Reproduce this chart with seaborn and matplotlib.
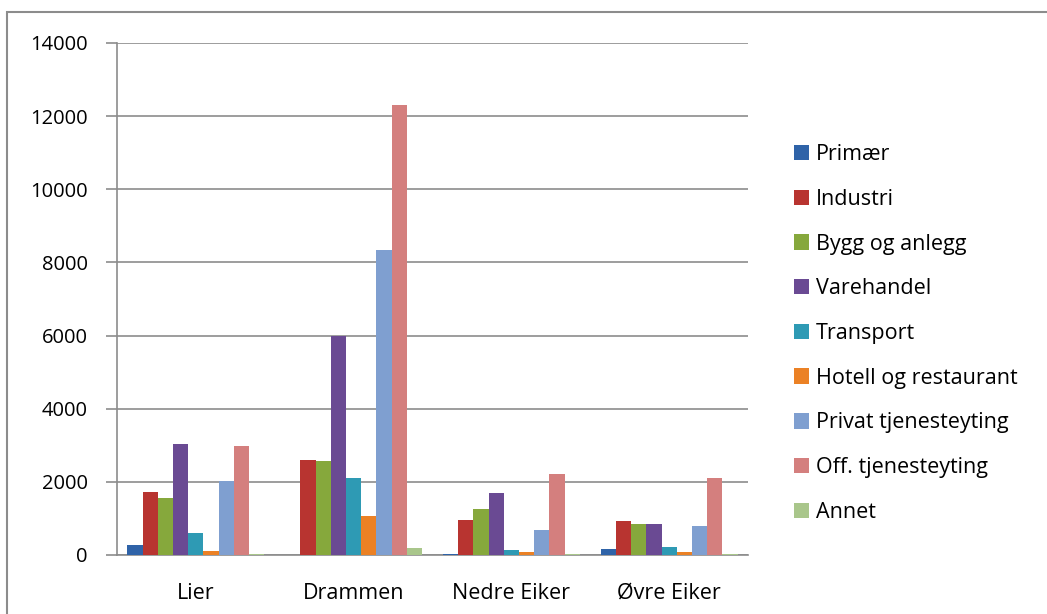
import pandas as pd
import matplotlib.pyplot as plt
import seaborn as sns
from matplotlib.patches import Rectangle

# Kommuner og næringer
kommuner = ['Lier', 'Drammen', 'Nedre Eiker', 'Øvre Eiker']
naeringer = ['Primær', 'Industri', 'Bygg og anlegg', 'Varehandel', 'Transport',
             'Hotell og restaurant', 'Privat tjenesteyting', 'Off. tjenesteyting', 'Annet']

# Sysselsatte per næring (en liste per kommune, i rekkefølgen over)
lier = [270, 1720, 1560, 3030, 600, 120, 2020, 2990, 40]
drammen = [10, 2600, 2570, 6000, 2100, 1060, 8350, 12300, 200]
nedre_eiker = [20, 950, 1260, 1690, 130, 80, 680, 2210, 20]
ovre_eiker = [160, 930, 860, 860, 220, 90, 800, 2100, 20]

farger = ['#2F63A8', '#B83430', '#86A83C', '#6A4A93', '#2E9AB4',
          '#EB8125', '#7F9FD0', '#D47F7E', '#A9C68B']

rows = []
for kommune, verdier in zip(kommuner, [lier, drammen, nedre_eiker, ovre_eiker]):
    for naering, v in zip(naeringer, verdier):
        rows.append({'kommune': kommune, 'naering': naering, 'antall': v})
df = pd.DataFrame(rows)

sns.set_style('white')
plt.rcParams['font.family'] = ['Open Sans', 'DejaVu Sans']
plt.rcParams['text.color'] = 'black'

fig = plt.figure(figsize=(10.47, 6.14), dpi=100)
ax = fig.add_axes([117 / 1047, 1 - 555 / 614, (748 - 117) / 1047, (555 - 43) / 614])

sns.barplot(data=df, x='kommune', y='antall', hue='naering', hue_order=naeringer,
            order=kommuner, palette=farger, width=0.87, gap=0, saturation=1,
            linewidth=0, errorbar=None, ax=ax, zorder=3)

ax.set_ylim(0, 14000)
ax.set_xlim(-0.5, 3.5)
ax.set_yticks(range(0, 14001, 2000))
ax.yaxis.grid(True, color='#8c8c8c', linewidth=1.2, zorder=0)
ax.set_axisbelow(True)
ax.set_xlabel('')
ax.set_ylabel('')

for side in ['top', 'right']:
    ax.spines[side].set_visible(False)
for side in ['left', 'bottom']:
    ax.spines[side].set_color('#8c8c8c')
    ax.spines[side].set_linewidth(1.2)

# tick-merker mellom kategoriene på x-aksen
ax.set_xticks([0, 1, 2, 3])
ax.set_xticks([-0.5, 0.5, 1.5, 2.5, 3.5], minor=True)
ax.tick_params(axis='x', which='major', length=0, labelsize=15.5, pad=20, labelcolor='black')
ax.tick_params(axis='x', which='minor', length=7, color='#8c8c8c', width=1.2, direction='out')
ax.tick_params(axis='y', length=8, color='#8c8c8c', width=1.2, direction='out',
               labelsize=14.5, pad=13, left=True, labelcolor='black')

leg = ax.legend(loc='upper left', bbox_to_anchor=(1.0586, 0.819), frameon=False,
                fontsize=15.5, handlelength=0.72, handleheight=0.72,
                handletextpad=0.3, labelspacing=1.1, borderaxespad=0)

# ramme rundt figuren (høyre og nedre kant faller utenfor bildet)
fig.patches.append(Rectangle((7 / 1047, -0.05), 1.1, 1 - 12 / 614 + 0.05, transform=fig.transFigure,
                             fill=False, edgecolor='#8c8c8c', linewidth=1.5, clip_on=False))

fig.savefig('out.png', dpi=100)
